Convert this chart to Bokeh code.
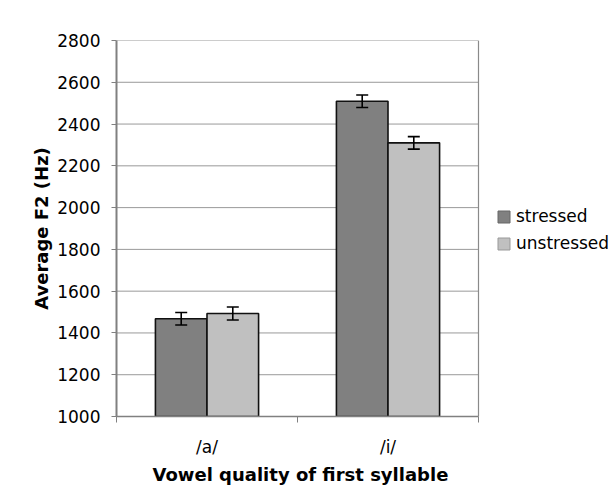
from bokeh.plotting import figure
from bokeh.models import (ColumnDataSource, Whisker, FixedTicker, Legend, LegendItem,
                          Range1d, Title)
from bokeh.embed import file_html
from bokeh.resources import INLINE

# Average F2 per vowel of the first syllable, by stress condition
categories = ["/a/", "/i/"]
stressed = [1468, 2509]
unstressed = [1493, 2310]
stressed_err = [30, 30]
unstressed_err = [31, 30]
y_ticks = [1000, 1200, 1400, 1600, 1800, 2000, 2200, 2400, 2600, 2800]

FONT = "DejaVu Sans"
BAR_W = 0.285
N = len(categories)
Y0, Y1 = y_ticks[0], y_ticks[-1]

centers = [i + 0.5 for i in range(N)]
x_s = [c - BAR_W / 2 for c in centers]
x_u = [c + BAR_W / 2 for c in centers]

src_s = ColumnDataSource(dict(x=x_s, top=stressed,
                              lo=[v - e for v, e in zip(stressed, stressed_err)],
                              hi=[v + e for v, e in zip(stressed, stressed_err)]))
src_u = ColumnDataSource(dict(x=x_u, top=unstressed,
                              lo=[v - e for v, e in zip(unstressed, unstressed_err)],
                              hi=[v + e for v, e in zip(unstressed, unstressed_err)]))

# The plotting frame runs to the right edge so the legend can sit beside the
# data area; the data area itself spans x = 0..N (362 px of the 500 px frame).
PLOT_W, FRAME_W, DATA_W = 616, 500, 362
p = figure(width=PLOT_W, height=497, output_backend="svg", toolbar_location=None,
           x_range=Range1d(0, N * FRAME_W / DATA_W), y_range=Range1d(Y0, Y1),
           min_border_left=116, min_border_right=0, min_border_top=40,
           min_border_bottom=81)
p.background_fill_color = "white"
p.border_fill_color = "white"
p.outline_line_color = None
p.xgrid.grid_line_color = None
p.ygrid.grid_line_color = None

# horizontal gridlines and right-hand border of the data area
p.segment(x0=0, x1=N, y0=y_ticks, y1=y_ticks, line_color="#999999", line_width=1)
p.segment(x0=[N], x1=[N], y0=[Y0], y1=[Y1], line_color="#8a8a8a", line_width=1.2)

# bars
bars_s = p.vbar(x="x", top="top", bottom=Y0, width=BAR_W, source=src_s,
                fill_color="#808080", line_color="#111111", line_width=1.6)
bars_u = p.vbar(x="x", top="top", bottom=Y0, width=BAR_W, source=src_u,
                fill_color="#c0c0c0", line_color="#111111", line_width=1.6)

# error bars, drawn above the bars
for src in (src_s, src_u):
    w = Whisker(base="x", lower="lo", upper="hi", source=src, level="overlay",
                line_color="black", line_width=1.6)
    for head in (w.upper_head, w.lower_head):
        head.size = 12
        head.line_width = 1.6
        head.line_color = "black"
    p.add_layout(w)

# y axis
p.yaxis.ticker = FixedTicker(ticks=y_ticks)
p.yaxis.axis_label = "Average F2 (Hz)"
p.yaxis.axis_label_text_font = FONT
p.yaxis.axis_label_text_font_style = "bold"
p.yaxis.axis_label_text_font_size = "18px"
p.yaxis.axis_label_text_color = "black"
p.yaxis.axis_label_standoff = 2
p.yaxis.major_label_text_font = FONT
p.yaxis.major_label_text_font_size = "17px"
p.yaxis.major_label_text_color = "black"
p.yaxis.major_label_standoff = 11
p.yaxis.axis_line_color = "#808080"
p.yaxis.axis_line_width = 2
p.yaxis.major_tick_line_color = "#808080"
p.yaxis.major_tick_line_width = 1.2
p.yaxis.major_tick_out = 5
p.yaxis.major_tick_in = 0
p.yaxis.minor_tick_line_color = None

# x axis: labels at category centres, tick marks at category boundaries
p.xaxis.bounds = (0, N)
p.xaxis.ticker = FixedTicker(ticks=centers, minor_ticks=list(range(N + 1)))
p.xaxis.major_label_overrides = {c: n for c, n in zip(centers, categories)}
p.xaxis.major_label_text_font = FONT
p.xaxis.major_label_text_font_size = "17px"
p.xaxis.major_label_text_color = "black"
p.xaxis.major_label_standoff = 14
p.xaxis.axis_line_color = "#808080"
p.xaxis.axis_line_width = 1.5
p.xaxis.major_tick_line_color = None
p.xaxis.minor_tick_line_color = "#808080"
p.xaxis.minor_tick_out = 6
p.xaxis.minor_tick_in = 0

# x-axis title, placed under the data area rather than the whole frame
x_title = Title(text="Vowel quality of first syllable", align="left", offset=36,
                standoff=5, text_font=FONT, text_font_style="bold",
                text_font_size="18px", text_color="black")
p.add_layout(x_title, "below")

# legend swatches: hidden copies of the bars with grey outlines
leg_s = p.vbar(x="x", top="top", bottom=Y0, width=BAR_W, source=src_s,
               fill_color="#808080", line_color="#666666", visible=False)
leg_u = p.vbar(x="x", top="top", bottom=Y0, width=BAR_W, source=src_u,
               fill_color="#c0c0c0", line_color="#999999", visible=False)
legend = Legend(items=[LegendItem(label="stressed", renderers=[leg_s]),
                       LegendItem(label="unstressed", renderers=[leg_u])],
                location=(380, 163), orientation="vertical",
                glyph_width=15, glyph_height=15, label_height=15,
                label_standoff=5, spacing=7, padding=0, margin=0,
                border_line_color=None, background_fill_alpha=0,
                inactive_fill_alpha=0,
                label_text_font=FONT, label_text_font_size="17px",
                label_text_color="black")
p.add_layout(legend, "center")

open("out.html", "w").write(file_html(p, INLINE))
